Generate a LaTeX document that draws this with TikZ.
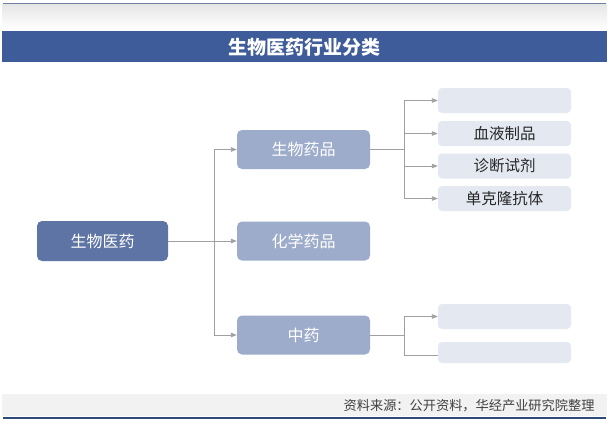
\documentclass[tikz,border=0pt]{standalone}
\usepackage{fontspec}
\setmainfont{Noto Sans CJK SC}
\usetikzlibrary{arrows.meta}
\definecolor{titlebar}{HTML}{3E5C9A}
\definecolor{rootc}{HTML}{5E74A4}
\definecolor{midc}{HTML}{9EACCB}
\definecolor{leafc}{HTML}{E4E8F1}
\definecolor{linkc}{HTML}{A0A0A0}
\definecolor{linec}{HTML}{2E4A7A}
\tikzset{
  rootbox/.style={fill=rootc, rounded corners=5pt, minimum width=131pt, minimum height=40pt, text=white, font=\fontsize{16pt}{19pt}\selectfont, inner sep=0pt},
  midbox/.style={fill=midc, rounded corners=5pt, minimum width=133pt, minimum height=39pt, text=white, font=\fontsize{16pt}{19pt}\selectfont, inner sep=0pt},
  leafbox/.style={fill=leafc, rounded corners=4pt, minimum width=133pt, minimum height=25pt, text=black!85, font=\fontsize{15.5pt}{18pt}\selectfont, inner sep=0pt},
  link/.style={draw=linkc, line width=0.9pt},
  arrowlink/.style={link, -{Triangle[length=6pt,width=4.5pt]}},
}
\begin{document}
\begin{tikzpicture}[x=1pt,y=-1pt]
\useasboundingbox[fill=white] (0,0) rectangle (609,426);
% top band
\shade[top color=black!10, bottom color=white] (2,4) rectangle (607,29);
\draw[linec!70, line width=1pt] (3,3.5) -- (606,3.5);
% title bar
\fill[titlebar] (2,31) rectangle (607,62);
\node[text=white, font=\fontsize{19pt}{22pt}\selectfont\bfseries] (title) at (304,47) {生物医药行业分类};
% nodes
\node[rootbox] (root) at (102.5,241) {生物医药};
\node[midbox] (bio) at (303.5,149.5) {生物药品};
\node[midbox] (chem) at (303.5,241) {化学药品};
\node[midbox] (tcm) at (303.5,335) {中药};
\node[leafbox] (b1) at (504.5,100.5) {};
\node[leafbox] (b2) at (504.5,133.5) {血液制品};
\node[leafbox] (b3) at (504.5,166) {诊断试剂};
\node[leafbox] (b4) at (504.5,198.5) {单克隆抗体};
\node[leafbox] (t1) at (504.5,316.5) {};
\node[leafbox, minimum height=21pt] (t2) at (504.5,352.5) {};
% connectors level 1
\coordinate (j1) at (214,241);
\coordinate (j1a) at (214,149.5);
\coordinate (j1c) at (214,335);
\draw[link] (root.east) -- (j1);
\draw[link] (j1a) -- (j1c);
\draw[arrowlink] (j1a) -- (bio.west);
\draw[arrowlink] (j1) -- (chem.west);
\draw[arrowlink] (j1c) -- (tcm.west);
% connectors level 2 (bio)
\coordinate (j2) at (404,149.5);
\coordinate (j2a) at (404,100.5);
\coordinate (j2b) at (404,133.5);
\coordinate (j2c) at (404,166);
\coordinate (j2d) at (404,198.5);
\draw[link] (bio.east) -- (j2);
\draw[link] (j2a) -- (j2d);
\draw[arrowlink] (j2a) -- (b1.west);
\draw[arrowlink] (j2b) -- (b2.west);
\draw[arrowlink] (j2c) -- (b3.west);
\draw[arrowlink] (j2d) -- (b4.west);
% connectors level 2 (tcm)
\coordinate (j3) at (404,335);
\coordinate (j3a) at (404,316.5);
\coordinate (j3b) at (404,355);
\draw[link] (tcm.east) -- (j3);
\draw[link] (j3a) -- (j3b);
\draw[arrowlink] (j3a) -- (t1.west);
\draw[link] (j3b) -- (t2.west |- j3b);
% footer
\fill[black!5] (2,394) rectangle (607,416);
\node[anchor=east, text=black!75, font=\fontsize{13.2pt}{15pt}\selectfont] (src) at (598,406) {资料来源：公开资料，华经产业研究院整理};
\draw[linec, line width=1.2pt] (3,418) -- (606,418);
\end{tikzpicture}
\end{document}
